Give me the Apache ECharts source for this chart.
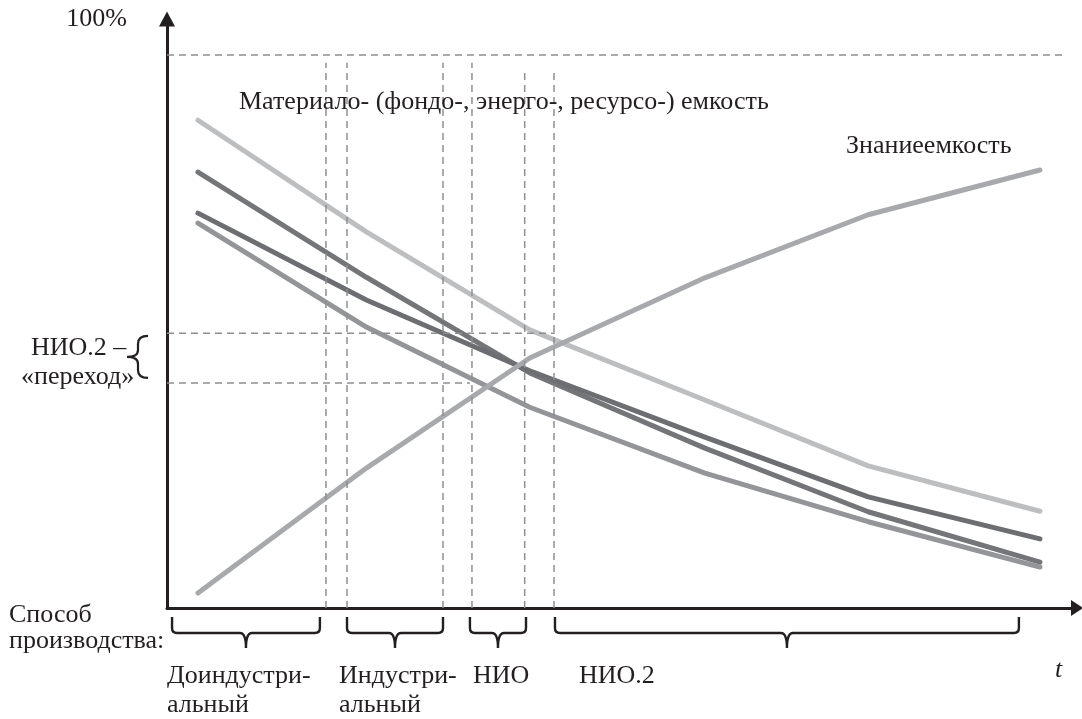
<!DOCTYPE html>
<html>
<head>
<meta charset="utf-8">
<script src="https://cdn.jsdelivr.net/npm/echarts@6/dist/echarts.min.js"></script>
<style>
html,body{margin:0;padding:0;background:#fff;}
#chart{width:1082px;height:719px;}
</style>
</head>
<body>
<div id="chart"></div>
<script>
// ---- data ----
const t = [1, 2, 2.97, 4.01, 4.98, 6];
const intensityLight = [88.2, 68.0, 50.3, 37.6, 25.7, 17.5];
const intensityB = [78.8, 59.8, 42.5, 28.9, 17.4, 8.3];
const intensityC = [71.4, 55.7, 42.9, 30.9, 20.1, 12.5];
const intensityD = [69.6, 50.8, 36.3, 24.4, 15.6, 7.4];
const knowledge = [2.7, 25.3, 45.2, 59.7, 71.1, 79.2];

// dashed guide lines [x1, y1, x2, y2]
const guides = [
  [0.816, 100, 6.15, 100],
  [0.816, 49.7, 3.12, 49.7],
  [0.816, 40.7, 2.615, 40.7],
  [1.76, 0, 1.76, 98.6],
  [1.885, 0, 1.885, 98.6],
  [2.455, 0, 2.455, 98.6],
  [2.627, 0, 2.627, 98.6],
  [2.94, 0, 2.94, 97.0],
  [3.114, 0, 3.114, 97.0]
];
// period braces below axis [from, to]
const braces = [[0.846, 1.724], [1.885, 2.455], [2.615, 2.948], [3.12, 5.875]];
// transition range on y axis
const transition = [41.6, 49.2];

const ink = '#231f20';
const font = '"Liberation Serif", "Times New Roman", serif';

function mkLine(name, ys, color, z) {
  return {
    name, type: 'line', data: t.map((x, i) => [x, ys[i]]),
    showSymbol: false, symbol: 'none', z: z,
    lineStyle: { color, width: 5, cap: 'round', join: 'round' },
    emphasis: { disabled: true }, silent: true
  };
}

const texts = [
  { text: '100%', x: 127, y: 19, align: 'right' },
  { text: 'Материало- (фондо-, энерго-, ресурсо-) емкость', x: 239, y: 102 },
  { text: 'Знаниеемкость', x: 846, y: 146 },
  { text: 'НИО.2 –', x: 31, y: 348 },
  { text: '«переход»', x: 21, y: 377 },
  { text: 'Способ', x: 9, y: 615 },
  { text: 'производства:', x: 9, y: 641 },
  { text: 'Доиндустри-', x: 167, y: 676 },
  { text: 'альный', x: 167, y: 705 },
  { text: 'Индустри-', x: 339, y: 676 },
  { text: 'альный', x: 339, y: 705 },
  { text: 'НИО', x: 473, y: 676 },
  { text: 'НИО.2', x: 579, y: 676 },
  { text: 't', x: 1055, y: 670, italic: true }
];

const chart = echarts.init(document.getElementById('chart'), null, { renderer: 'canvas' });

chart.setOption({
  animation: false,
  backgroundColor: '#fff',
  grid: { left: 167, right: 5, top: 19, bottom: 111 },
  xAxis: {
    type: 'value', min: 0.816, max: 6.22,
    axisLine: { show: true, onZero: false, symbol: ['none', 'triangle'], symbolSize: [16, 12],
      lineStyle: { color: ink, width: 3 } },
    axisTick: { show: false }, axisLabel: { show: false }, splitLine: { show: false }
  },
  yAxis: {
    type: 'value', min: 0, max: 106.5,
    axisLine: { show: true, onZero: false, symbol: ['none', 'triangle'], symbolSize: [16, 15],
      lineStyle: { color: ink, width: 3 } },
    axisTick: { show: false }, axisLabel: { show: false }, splitLine: { show: false }
  },
  series: [
    mkLine('A', intensityLight, '#bcbec0', 2),
    mkLine('D', intensityD, '#939598', 3),
    mkLine('B', intensityB, '#747578', 4),
    mkLine('C', intensityC, '#6d6e71', 5),
    mkLine('E', knowledge, '#a7a9ac', 6),
    {
      type: 'custom', name: 'guides', data: guides, z: 10, silent: true, clip: false,
      encode: { x: [0, 2], y: [1, 3] },
      renderItem: function (params, api) {
        const p1 = api.coord([api.value(0), api.value(1)]);
        const p2 = api.coord([api.value(2), api.value(3)]);
        return { type: 'line', shape: { x1: p1[0], y1: p1[1], x2: p2[0], y2: p2[1] },
          style: { stroke: '#8d8f92', lineWidth: 1.5, lineDash: [7, 5], fill: null } };
      }
    },
    {
      type: 'custom', name: 'braces', data: braces, z: 10, silent: true, clip: false,
      encode: { x: [0, 1] },
      renderItem: function (params, api) {
        const a = api.coord([api.value(0), 0]);
        const b = api.coord([api.value(1), 0]);
        const x1 = a[0], x2 = b[0], y0 = a[1];
        const m = (x1 + x2) / 2;
        const top = y0 + 9, base = y0 + 25, tip = y0 + 40;
        const d = 'M' + x1 + ' ' + top + ' L' + x1 + ' ' + (base - 5) +
          ' Q' + x1 + ' ' + base + ' ' + (x1 + 5) + ' ' + base +
          ' L' + (m - 6) + ' ' + base +
          ' Q' + m + ' ' + base + ' ' + m + ' ' + tip +
          ' Q' + m + ' ' + base + ' ' + (m + 6) + ' ' + base +
          ' L' + (x2 - 5) + ' ' + base +
          ' Q' + x2 + ' ' + base + ' ' + x2 + ' ' + (base - 5) +
          ' L' + x2 + ' ' + top;
        return { type: 'path', shape: { pathData: d },
          style: { stroke: ink, lineWidth: 2.4, fill: null } };
      }
    },
    {
      type: 'custom', name: 'transitionBrace', data: [transition], z: 10, silent: true, clip: false,
      encode: { y: [0, 1] },
      renderItem: function (params, api) {
        const lo = api.coord([0.816, api.value(0)]);
        const hi = api.coord([0.816, api.value(1)]);
        const xr = lo[0] - 19, xm = lo[0] - 29, xl = lo[0] - 40;
        const yt = hi[1], yb = lo[1], ym = (yt + yb) / 2;
        const d = 'M' + xr + ' ' + yt +
          ' Q' + xm + ' ' + yt + ' ' + xm + ' ' + (yt + 8) +
          ' L' + xm + ' ' + (ym - 7) +
          ' Q' + xm + ' ' + ym + ' ' + xl + ' ' + ym +
          ' Q' + xm + ' ' + ym + ' ' + xm + ' ' + (ym + 7) +
          ' L' + xm + ' ' + (yb - 8) +
          ' Q' + xm + ' ' + yb + ' ' + xr + ' ' + yb;
        return { type: 'path', shape: { pathData: d },
          style: { stroke: ink, lineWidth: 2.2, fill: null } };
      }
    }
  ],
  graphic: texts.map(o => ({
    type: 'text', x: o.x, y: o.y, silent: true, z: 20,
    style: {
      text: o.text, fill: ink,
      font: (o.italic ? 'italic ' : '') + '26px ' + font,
      align: o.align || 'left', verticalAlign: 'middle'
    }
  }))
});
</script>
</body>
</html>
